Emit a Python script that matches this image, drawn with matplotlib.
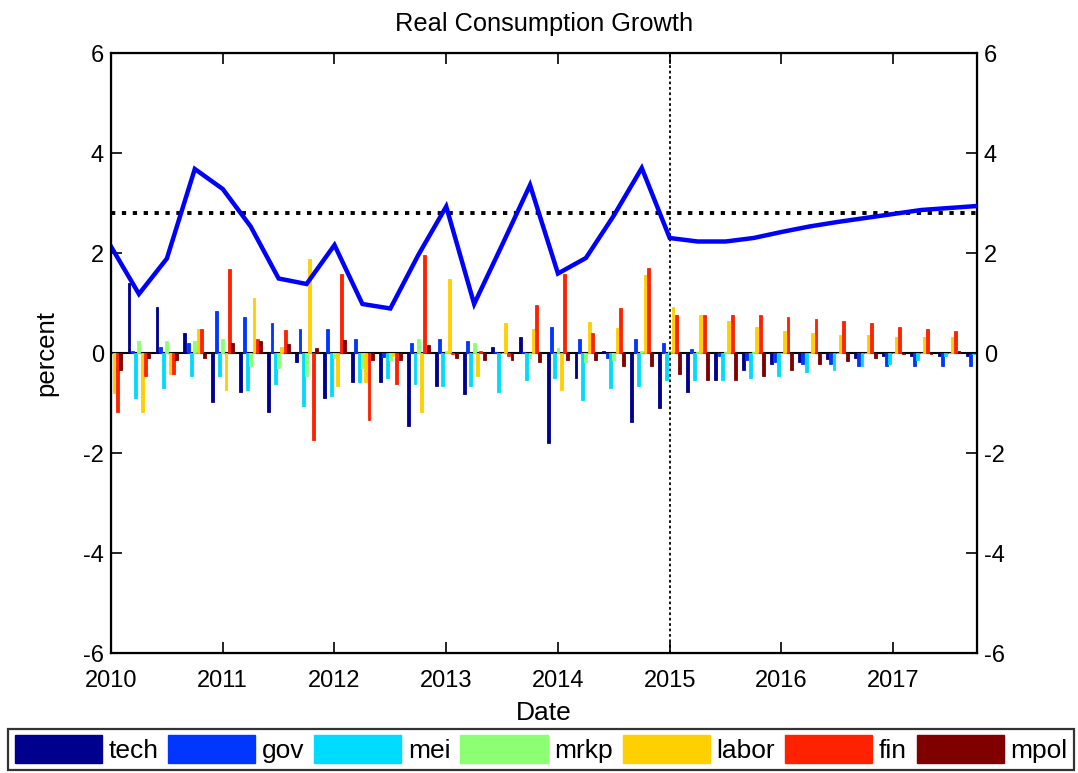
import numpy as np
import matplotlib
matplotlib.use("Agg")
import matplotlib.pyplot as plt
from matplotlib.patches import Patch

plt.rcParams['font.family'] = ['Liberation Sans', 'DejaVu Sans']
plt.rcParams['axes.unicode_minus'] = False

# Quarterly dates 2010Q1 .. 2017Q4
dates = 2010 + 0.25 * np.arange(32)

# Shock contributions to real consumption growth (percent)
tech = [0.50, 1.40, 0.93, 0.41, -0.97, -0.77, -1.17, -0.17, -0.89, -0.57, -0.57, -1.45,
        -0.65, -0.82, 0.13, 0.33, -1.79, -0.50, 0.05, -1.37, -1.09, -0.77, -0.53, -0.33,
        -0.22, -0.17, -0.11, -0.09, -0.05, -0.05, -0.05, -0.05]
gov = [0.30, 0.05, 0.13, 0.20, 0.85, 0.73, 0.61, 0.48, 0.48, 0.28, -0.07, 0.21,
       0.29, 0.25, 0.02, 0.03, 0.53, 0.29, -0.10, 0.29, 0.20, 0.08, -0.05, -0.13,
       -0.17, -0.22, -0.22, -0.25, -0.25, -0.25, -0.25, -0.25]
mei = [-0.50, -0.89, -0.69, -0.45, -0.45, -0.73, -0.61, -1.05, -0.85, -0.57, -0.50, -0.62,
       -0.65, -0.65, -0.77, -0.53, -0.49, -0.94, -0.69, -0.65, -0.53, -0.54, -0.54, -0.50,
       -0.45, -0.37, -0.34, -0.25, -0.21, -0.14, -0.05, -0.02]
mrkp = [0.00, 0.25, 0.25, 0.25, 0.28, -0.25, -0.29, -0.45, -0.10, -0.30, -0.14, 0.28,
        0.05, 0.20, 0.00, -0.10, 0.11, -0.17, -0.13, 0.05, 0.05, 0.02, 0.02, 0.02,
        0.01, 0.01, 0.01, 0.00, 0.00, 0.00, 0.00, 0.00]
labor = [-0.79, -1.17, -0.42, 0.48, -0.74, 1.11, 0.13, 1.88, -0.65, -0.57, -0.05, -1.17,
         1.48, -0.45, 0.61, 0.48, -0.74, 0.63, 0.51, 1.57, 0.93, 0.76, 0.65, 0.53,
         0.45, 0.41, 0.37, 0.37, 0.33, 0.33, 0.33, 0.33]
fin = [-1.17, -0.45, -0.42, 0.48, 1.68, 0.28, 0.47, -1.73, 1.59, -1.33, -0.62, 1.96,
       -0.02, 0.05, -0.05, 0.97, 1.58, 0.40, 0.91, 1.71, 0.76, 0.76, 0.76, 0.76,
       0.72, 0.68, 0.64, 0.60, 0.53, 0.48, 0.44, 0.42]
mpol = [-0.33, -0.10, -0.13, -0.09, 0.20, 0.24, 0.19, 0.11, 0.27, -0.13, -0.14, 0.16,
        -0.10, -0.14, -0.14, -0.17, -0.13, -0.13, -0.25, -0.25, -0.41, -0.53, -0.53, -0.45,
        -0.33, -0.22, -0.15, -0.10, -0.02, -0.01, 0.04, 0.05]

# Actual / projected real consumption growth and its steady-state mean
consumption = [2.13, 1.18, 1.89, 3.68, 3.28, 2.53, 1.49, 1.38, 2.16, 0.98, 0.89, 1.96,
               2.93, 0.98, 2.16, 3.36, 1.59, 1.90, 2.75, 3.70, 2.30, 2.23, 2.23, 2.30,
               2.42, 2.53, 2.62, 2.70, 2.78, 2.86, 2.90, 2.94]
steady_state = 2.8
forecast_start = 2015.0

series_names = ['tech', 'gov', 'mei', 'mrkp', 'labor', 'fin', 'mpol']
series_values = [tech, gov, mei, mrkp, labor, fin, mpol]
series_colors = ['#00008F', '#0036FF', '#00DCFF', '#8CFF73', '#FFD000', '#FF2200', '#800000']

fig = plt.figure(figsize=(10.78, 7.73), dpi=100)
ax = fig.add_axes([111 / 1078, 1 - 653 / 773, 866 / 1078, 600 / 773])

step = 0.0295
width = 0.026
for i, (vals, col) in enumerate(zip(series_values, series_colors)):
    ax.bar(dates + (i - 3) * step, vals, width=width, color=col,
           edgecolor=col, linewidth=0.6, zorder=2)

ax.axhline(0, color='black', lw=1.5, zorder=1.5)
ax.plot(dates, consumption, color='#0000FF', lw=3.2, zorder=4, solid_joinstyle='miter')
ax.axhline(steady_state, color='black', lw=2.8, linestyle=(0, (1.1, 1.7)), zorder=3)
ax.axvline(forecast_start, color='black', lw=1.3, linestyle=(0, (1.5, 1.5)), zorder=3)

ax.set_xlim(2010, 2017.75)
ax.set_ylim(-6, 6)
ax.set_xticks(np.arange(2010, 2018))
ax.set_yticks(np.arange(-6, 7, 2))
ax.tick_params(direction='in', length=8, width=1.2, labelsize=17,
               top=True, bottom=True, left=True, right=False)
ax.tick_params(axis='x', pad=12)
ax.tick_params(axis='y', pad=5)
for sp in ax.spines.values():
    sp.set_linewidth(1.6)

ax2 = ax.twinx()
ax2.set_ylim(-6, 6)
ax2.set_yticks(np.arange(-6, 7, 2))
ax2.tick_params(direction='in', length=8, width=1.2, labelsize=17, pad=5)

ax.set_title('Real Consumption Growth', fontsize=18.3, pad=16)
ax.set_xlabel('Date', fontsize=19, labelpad=7)
ax.set_ylabel('percent', fontsize=18.5, labelpad=18)

handles = [Patch(facecolor=c, edgecolor=c) for c in series_colors]
leg = fig.legend(handles, series_names, loc='lower left', ncol=7, mode='expand',
                 bbox_to_anchor=(8 / 1078, 3 / 773, 1066 / 1078, 46 / 773),
                 fontsize=19, handlelength=3.3, handleheight=1.25, handletextpad=0.25,
                 columnspacing=0.7, borderpad=0.25, borderaxespad=0, frameon=True,
                 fancybox=False, edgecolor='black')
leg.get_frame().set_linewidth(1.6)

fig.savefig('out.png', dpi=100)
